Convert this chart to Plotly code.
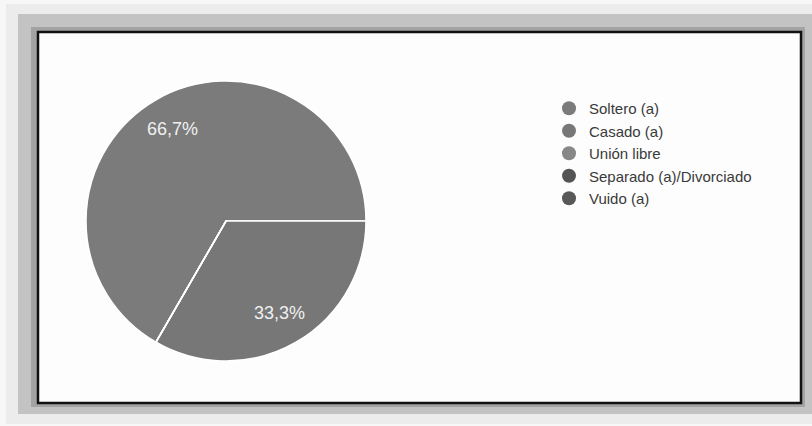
import math
import plotly.graph_objects as go

# Estado civil de los encuestados
categorias = ["Soltero (a)", "Casado (a)", "Unión libre",
              "Separado (a)/Divorciado", "Vuido (a)"]
respuestas = [2, 1, 0, 0, 0]
colores = ["#7b7b7b", "#777777", "#878787", "#545454", "#585858"]

W, H = 812, 426
ROTACION = 210  # start angle of the first slice, clockwise from 12 o'clock

def px_x(x):
    return x / W

def px_y(y):
    return 1 - y / H

# Pie placement in pixels
cx, cy, r = 226, 221, 140

fig = go.Figure()

fig.add_trace(go.Pie(
    labels=categorias,
    values=respuestas,
    marker=dict(colors=colores, line=dict(color="#ffffff", width=1.5)),
    sort=False,
    direction="clockwise",
    rotation=ROTACION,
    textinfo="none",
    showlegend=False,
    hoverinfo="label+percent",
    domain=dict(x=[px_x(cx - r), px_x(cx + r)], y=[px_y(cy + r), px_y(cy - r)]),
))

# Percentage labels placed along each slice's middle angle
total = sum(respuestas)
angulo = ROTACION
anotaciones = []
for v in respuestas:
    if v <= 0:
        continue
    barrido = 360 * v / total
    medio = math.radians(angulo + barrido / 2)
    angulo += barrido
    lx = cx + 0.76 * r * math.sin(medio)
    ly = cy - 0.76 * r * math.cos(medio)
    texto = f"{100 * v / total:.1f}%".replace(".", ",")
    anotaciones.append(dict(
        x=px_x(lx), y=px_y(ly), xref="paper", yref="paper",
        xanchor="center", yanchor="middle",
        text=texto, showarrow=False,
        font=dict(family="Liberation Sans, Arial, sans-serif", size=18, color="#f0f0f0"),
    ))

# Legend entries with round swatches for every category
for nombre, color in zip(categorias, colores):
    fig.add_trace(go.Scatter(
        x=[None], y=[None], mode="markers", name=nombre,
        marker=dict(symbol="circle", size=14, color=color),
    ))

# Framed card with a soft drop shadow around it
shapes = [
    dict(x0=6, y0=4, x1=W, y1=424, fill="#ececec"),
    dict(x0=18, y0=14, x1=W, y1=414, fill="#c3c3c3"),
    dict(x0=31, y0=27, x1=805, y1=407, fill="#a3a3a3"),
]
layout_shapes = []
for s in shapes:
    layout_shapes.append(dict(
        type="rect", xref="paper", yref="paper", layer="below",
        x0=px_x(s["x0"]), x1=px_x(s["x1"]), y0=px_y(s["y1"]), y1=px_y(s["y0"]),
        fillcolor=s["fill"], line=dict(width=0),
    ))
layout_shapes.append(dict(
    type="rect", xref="paper", yref="paper", layer="below",
    x0=px_x(38), x1=px_x(801), y0=px_y(403), y1=px_y(32),
    fillcolor="#fdfdfd", line=dict(color="#111111", width=2.5),
))

fig.update_layout(
    width=W, height=H,
    margin=dict(l=0, r=0, t=0, b=0),
    paper_bgcolor="#f7f7f7",
    plot_bgcolor="rgba(0,0,0,0)",
    shapes=layout_shapes,
    annotations=anotaciones,
    xaxis=dict(visible=False),
    yaxis=dict(visible=False),
    legend=dict(
        x=px_x(549), xanchor="left",
        y=px_y(92), yanchor="top",
        bgcolor="rgba(0,0,0,0)",
        font=dict(family="Liberation Sans, Arial, sans-serif", size=15, color="#3a3a3a"),
        itemwidth=30,
    ),
    font=dict(family="Liberation Sans, Arial, sans-serif"),
)

fig.write_html("out.html")
